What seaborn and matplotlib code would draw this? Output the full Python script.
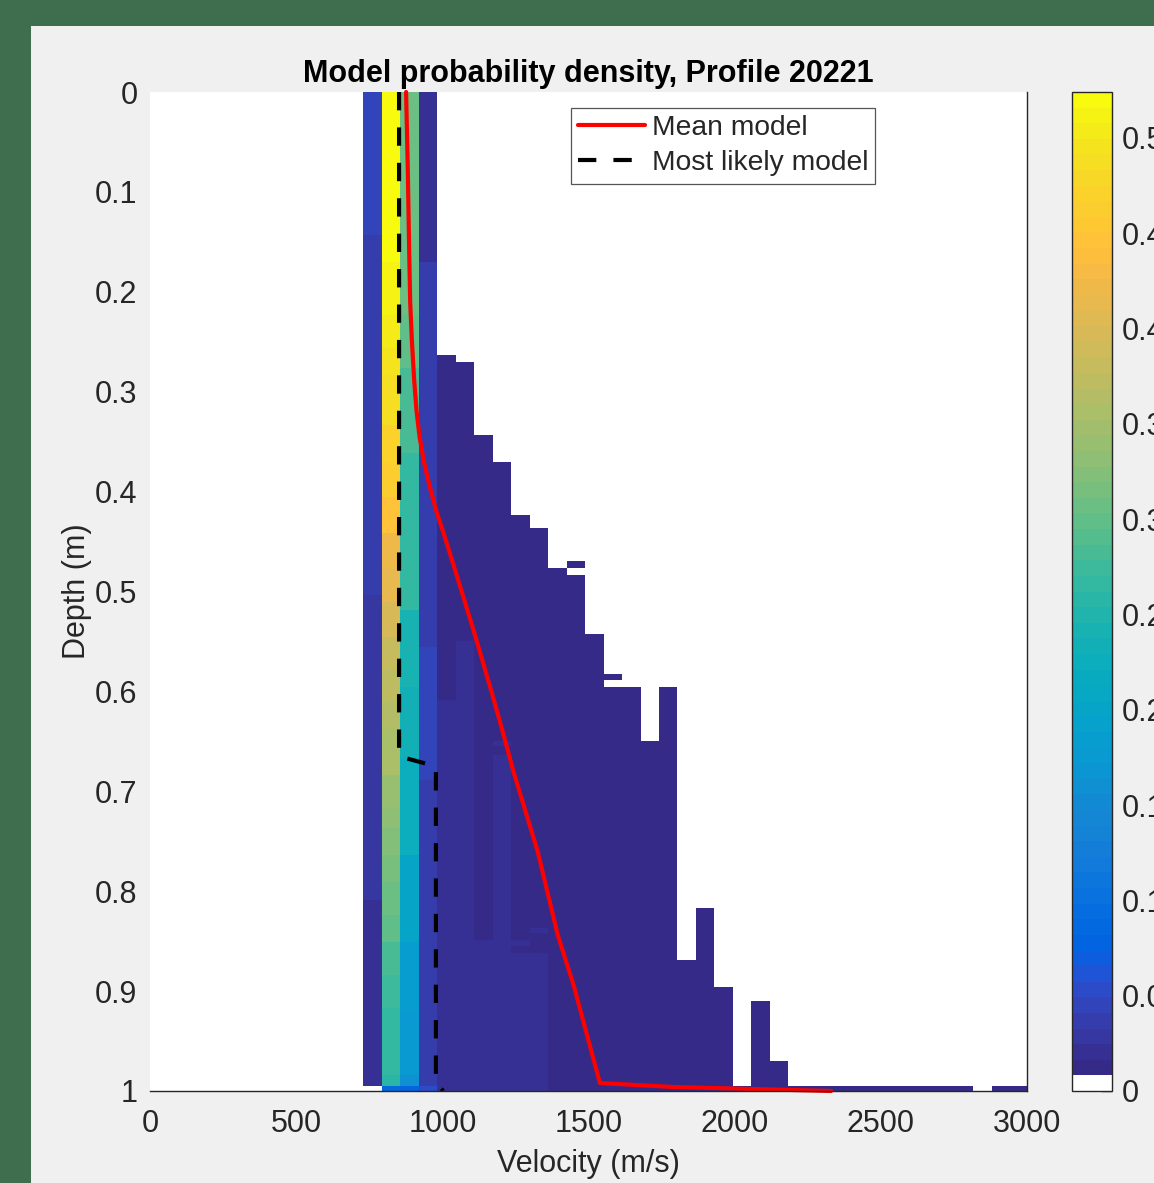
import numpy as np
import pandas as pd
import seaborn as sns
import matplotlib.pyplot as plt
from matplotlib.colors import ListedColormap, LinearSegmentedColormap
from matplotlib.patches import Rectangle

# velocity bins of the 2D histogram (m/s), columns 0..35
vel_edges = [730.0, 793.2, 856.4, 919.6, 982.8, 1046.0, 1109.2, 1172.4, 1235.6,
             1298.8, 1362.0, 1425.2, 1488.4, 1551.6, 1614.8, 1678.0, 1741.2,
             1804.4, 1867.6, 1930.8, 1994.0, 2057.2, 2120.4, 2183.6, 2246.8,
             2310.0, 2373.2, 2436.4, 2499.6, 2562.8, 2626.0, 2689.2, 2752.4,
             2815.6, 2878.8, 2942.0, 3005.2]

# the four bright columns: layer boundaries (m) and probability density per layer
col0_depth = [0, 0.143, 0.504, 0.809, 0.995]
col0_dens = [0.048, 0.037, 0.030, 0.019]

col1_depth = [0, 0.170, 0.223, 0.256, 0.283, 0.333, 0.371, 0.405, 0.441, 0.476,
              0.511, 0.546, 0.579, 0.611, 0.636, 0.684, 0.717, 0.737, 0.764,
              0.791, 0.824, 0.851, 0.884, 0.917, 0.951, 0.984, 0.995, 1.0]
col1_dens = [0.52, 0.51, 0.503, 0.495, 0.485, 0.47, 0.46, 0.445, 0.425, 0.41,
             0.395, 0.38, 0.37, 0.365, 0.355, 0.343, 0.335, 0.325, 0.315, 0.305,
             0.295, 0.285, 0.278, 0.27, 0.265, 0.255, 0.085]

col2_depth = [0, 0.223, 0.276, 0.333, 0.361, 0.438, 0.519, 0.596, 0.666, 0.764,
              0.851, 0.921, 0.984, 0.995, 1.0]
col2_dens = [0.31, 0.295, 0.285, 0.28, 0.27, 0.262, 0.245, 0.235, 0.225, 0.2,
             0.185, 0.175, 0.16, 0.08]

col3_depth = [0, 0.170, 0.556, 0.667, 0.689, 0.995, 1.0]
col3_dens = [0.018, 0.034, 0.043, 0.048, 0.036, 0.05]

# low-density tail: column, top, bottom, density
tail_col = [4, 4, 5, 5, 6, 6,
            7, 7, 7, 7,
            8, 8, 8, 8,
            9, 9, 9, 9,
            10, 11, 11, 12, 13, 13, 14, 15, 16, 17, 18, 19, 20, 21, 22,
            23, 24, 25, 26, 27, 28, 29, 30, 31, 32, 34, 35]
tail_top = [0.263, 0.609, 0.270, 0.550, 0.343, 0.849,
            0.370, 0.650, 0.655, 0.664,
            0.423, 0.849, 0.855, 0.862,
            0.436, 0.837, 0.842, 0.862,
            0.476, 0.469, 0.483, 0.543, 0.583, 0.596, 0.596, 0.650, 0.596,
            0.869, 0.8165, 0.896, 0.995, 0.910, 0.970,
            0.995, 0.995, 0.995, 0.995, 0.995, 0.995, 0.995, 0.995, 0.995,
            0.995, 0.995, 0.995]
tail_bottom = [0.609, 1.0, 0.550, 1.0, 0.849, 1.0,
               0.650, 0.655, 0.664, 1.0,
               0.849, 0.855, 0.862, 1.0,
               0.837, 0.842, 0.862, 1.0,
               1.0, 0.476, 1.0, 1.0, 0.589, 1.0, 1.0, 1.0, 1.0,
               1.0, 1.0, 1.0, 1.0, 1.0, 1.0,
               1.0, 1.0, 1.0, 1.0, 1.0, 1.0, 1.0, 1.0, 1.0, 1.0, 1.0, 1.0]
tail_dens = [0.012, 0.022, 0.012, 0.022, 0.012, 0.022,
             0.012, 0.024, 0.012, 0.022,
             0.012, 0.024, 0.015, 0.022,
             0.012, 0.024, 0.012, 0.022,
             0.012, 0.012, 0.012, 0.012, 0.012, 0.012, 0.012, 0.012, 0.012,
             0.012, 0.012, 0.012, 0.012, 0.012, 0.012,
             0.012, 0.012, 0.012, 0.012, 0.012, 0.012, 0.012, 0.012, 0.012,
             0.012, 0.012, 0.012]

# mean model and most likely model
mean_vel = [876, 882, 886, 890, 896, 904, 912, 922, 937, 957, 980, 1008, 1040,
            1108, 1168, 1211, 1243, 1326, 1395, 1450, 1539, 1790, 2330]
mean_depth = [0, 0.08, 0.15, 0.21, 0.25, 0.29, 0.32, 0.345, 0.37, 0.395, 0.42,
              0.445, 0.475, 0.54, 0.60, 0.645, 0.68, 0.76, 0.844, 0.895, 0.992,
              0.996, 1.0]
ml_vel = [852, 852, 978, 978, 1003]
ml_depth = [0, 0.665, 0.675, 0.992, 1.0]

x_ticks = [0, 500, 1000, 1500, 2000, 2500, 3000]
y_ticks = [0, 0.1, 0.2, 0.3, 0.4, 0.5, 0.6, 0.7, 0.8, 0.9, 1]
cbar_ticks = [0, 0.05, 0.1, 0.15, 0.2, 0.25, 0.3, 0.35, 0.4, 0.45, 0.5]
dens_max = 0.524

# build the cell table for histplot (one weighted point per cell)
segments = []
for k, (br, de) in enumerate([(col0_depth, col0_dens), (col1_depth, col1_dens),
                              (col2_depth, col2_dens), (col3_depth, col3_dens)]):
    for top, bot, d in zip(br[:-1], br[1:], de):
        segments.append((k, top, bot, d))
for k, top, bot, d in zip(tail_col, tail_top, tail_bottom, tail_dens):
    segments.append((k, top, bot, d))

depth_edges = np.unique(np.round([s[1] for s in segments] + [s[2] for s in segments] + [0.0, 1.0], 4))
rows = []
for k, top, bot, d in segments:
    for lo, hi in zip(depth_edges[:-1], depth_edges[1:]):
        if lo >= top - 1e-9 and hi <= bot + 1e-9:
            rows.append((0.5 * (vel_edges[k] + vel_edges[k + 1]), 0.5 * (lo + hi), d))
df = pd.DataFrame(rows, columns=['velocity', 'depth', 'density'])

# parula (MATLAB) with white as the lowest level
parula = [[0.2081, 0.1663, 0.5292], [0.2116, 0.1898, 0.5777], [0.2123, 0.2138, 0.6270],
          [0.2081, 0.2386, 0.6771], [0.1959, 0.2645, 0.7279], [0.1707, 0.2919, 0.7792],
          [0.1253, 0.3242, 0.8303], [0.0591, 0.3598, 0.8683], [0.0117, 0.3875, 0.8820],
          [0.0060, 0.4086, 0.8828], [0.0165, 0.4266, 0.8786], [0.0329, 0.4430, 0.8720],
          [0.0498, 0.4586, 0.8641], [0.0629, 0.4737, 0.8554], [0.0723, 0.4887, 0.8467],
          [0.0779, 0.5040, 0.8384], [0.0793, 0.5200, 0.8312], [0.0749, 0.5375, 0.8263],
          [0.0641, 0.5570, 0.8240], [0.0488, 0.5772, 0.8228], [0.0343, 0.5966, 0.8199],
          [0.0265, 0.6137, 0.8135], [0.0239, 0.6287, 0.8038], [0.0231, 0.6418, 0.7913],
          [0.0228, 0.6535, 0.7768], [0.0267, 0.6642, 0.7607], [0.0384, 0.6743, 0.7436],
          [0.0590, 0.6838, 0.7254], [0.0843, 0.6928, 0.7062], [0.1133, 0.7015, 0.6859],
          [0.1453, 0.7098, 0.6646], [0.1801, 0.7177, 0.6424], [0.2178, 0.7250, 0.6193],
          [0.2586, 0.7317, 0.5954], [0.3022, 0.7376, 0.5712], [0.3482, 0.7424, 0.5473],
          [0.3953, 0.7459, 0.5244], [0.4420, 0.7481, 0.5033], [0.4871, 0.7491, 0.4840],
          [0.5300, 0.7491, 0.4661], [0.5709, 0.7485, 0.4494], [0.6099, 0.7473, 0.4337],
          [0.6473, 0.7456, 0.4188], [0.6834, 0.7435, 0.4044], [0.7184, 0.7411, 0.3905],
          [0.7525, 0.7384, 0.3768], [0.7858, 0.7356, 0.3633], [0.8185, 0.7327, 0.3498],
          [0.8507, 0.7299, 0.3360], [0.8824, 0.7274, 0.3217], [0.9139, 0.7258, 0.3063],
          [0.9450, 0.7261, 0.2886], [0.9739, 0.7314, 0.2666], [0.9938, 0.7455, 0.2403],
          [0.9990, 0.7653, 0.2164], [0.9955, 0.7861, 0.1967], [0.9880, 0.8066, 0.1794],
          [0.9789, 0.8271, 0.1633], [0.9697, 0.8481, 0.1475], [0.9626, 0.8705, 0.1309],
          [0.9589, 0.8949, 0.1132], [0.9598, 0.9218, 0.0948], [0.9661, 0.9514, 0.0755],
          [0.9763, 0.9831, 0.0538]]
base = LinearSegmentedColormap.from_list('parula', parula, N=63)
cmap = ListedColormap([(1, 1, 1, 1)] + [base(i) for i in range(63)])

sns.set_theme(style='white')
plt.rcParams['font.family'] = ['Liberation Sans', 'DejaVu Sans']
ink = '#262626'

fig = plt.figure(figsize=(11.54, 11.83), dpi=100, facecolor='#3f6e4e')
fig.add_artist(Rectangle((31 / 1154, 0), 1, 1 - 26 / 1183, transform=fig.transFigure,
                         facecolor='#f0f0f0', edgecolor='none', zorder=-1))
ax = fig.add_axes([150 / 1154, 92 / 1183, 877 / 1154, 999 / 1183])
cax = fig.add_axes([1072 / 1154, 92 / 1183, 40 / 1154, 999 / 1183])
ax.set_facecolor('white')

sns.histplot(data=df, x='velocity', y='depth', weights='density',
             bins=[vel_edges, list(depth_edges)], cmap=cmap, vmin=0, vmax=dens_max,
             cbar=True, cbar_ax=cax, cbar_kws={'ticks': cbar_ticks}, ax=ax)
cbar = ax.collections[0].colorbar

sns.lineplot(x=mean_vel, y=mean_depth, sort=False, estimator=None, color='#ff0000',
             linewidth=3, label='Mean model', ax=ax, clip_on=False)
sns.lineplot(x=ml_vel, y=ml_depth, sort=False, estimator=None, color='black',
             linewidth=3, linestyle=(0, (4.4, 4.1)), label='Most likely model', ax=ax)

ax.set_xlim(0, 3000)
ax.set_ylim(1, 0)
ax.set_xticks(x_ticks)
ax.set_yticks(y_ticks)
ax.set_yticklabels([f'{t:g}' for t in y_ticks])
ax.tick_params(length=0, labelsize=22, colors=ink)
ax.tick_params(axis='x', pad=13)
ax.tick_params(axis='y', pad=9)
ax.set_xlabel('Velocity (m/s)', fontsize=22, color=ink, labelpad=7)
ax.set_ylabel('Depth (m)', fontsize=22, color=ink, labelpad=2)
ax.set_title('Model probability density, Profile 20221', fontsize=22,
             fontweight='bold', color='black', pad=7)
ax.grid(False)
for side in ['left', 'top']:
    ax.spines[side].set_visible(False)
for side in ['bottom', 'right']:
    ax.spines[side].set_color(ink)
    ax.spines[side].set_linewidth(1.0)

leg = ax.legend(loc='upper left', bbox_to_anchor=(0.48, 0.984), borderaxespad=0,
                fontsize=20.3, frameon=True, fancybox=False, framealpha=1,
                edgecolor='#555555', borderpad=0.26, labelspacing=0.32,
                handlelength=2.35, handletextpad=0.25)
leg.get_frame().set_linewidth(0.9)

cax.set_yticks(cbar_ticks)
cax.set_yticklabels([f'{t:g}' for t in cbar_ticks])
cax.tick_params(direction='in', length=8, width=1, color=ink, labelsize=22,
                labelcolor=ink, pad=7, right=True, left=False)
if cbar is not None:
    cbar.outline.set_edgecolor(ink)
    cbar.outline.set_linewidth(1.0)

fig.savefig('out.png', dpi=100, facecolor=fig.get_facecolor())
